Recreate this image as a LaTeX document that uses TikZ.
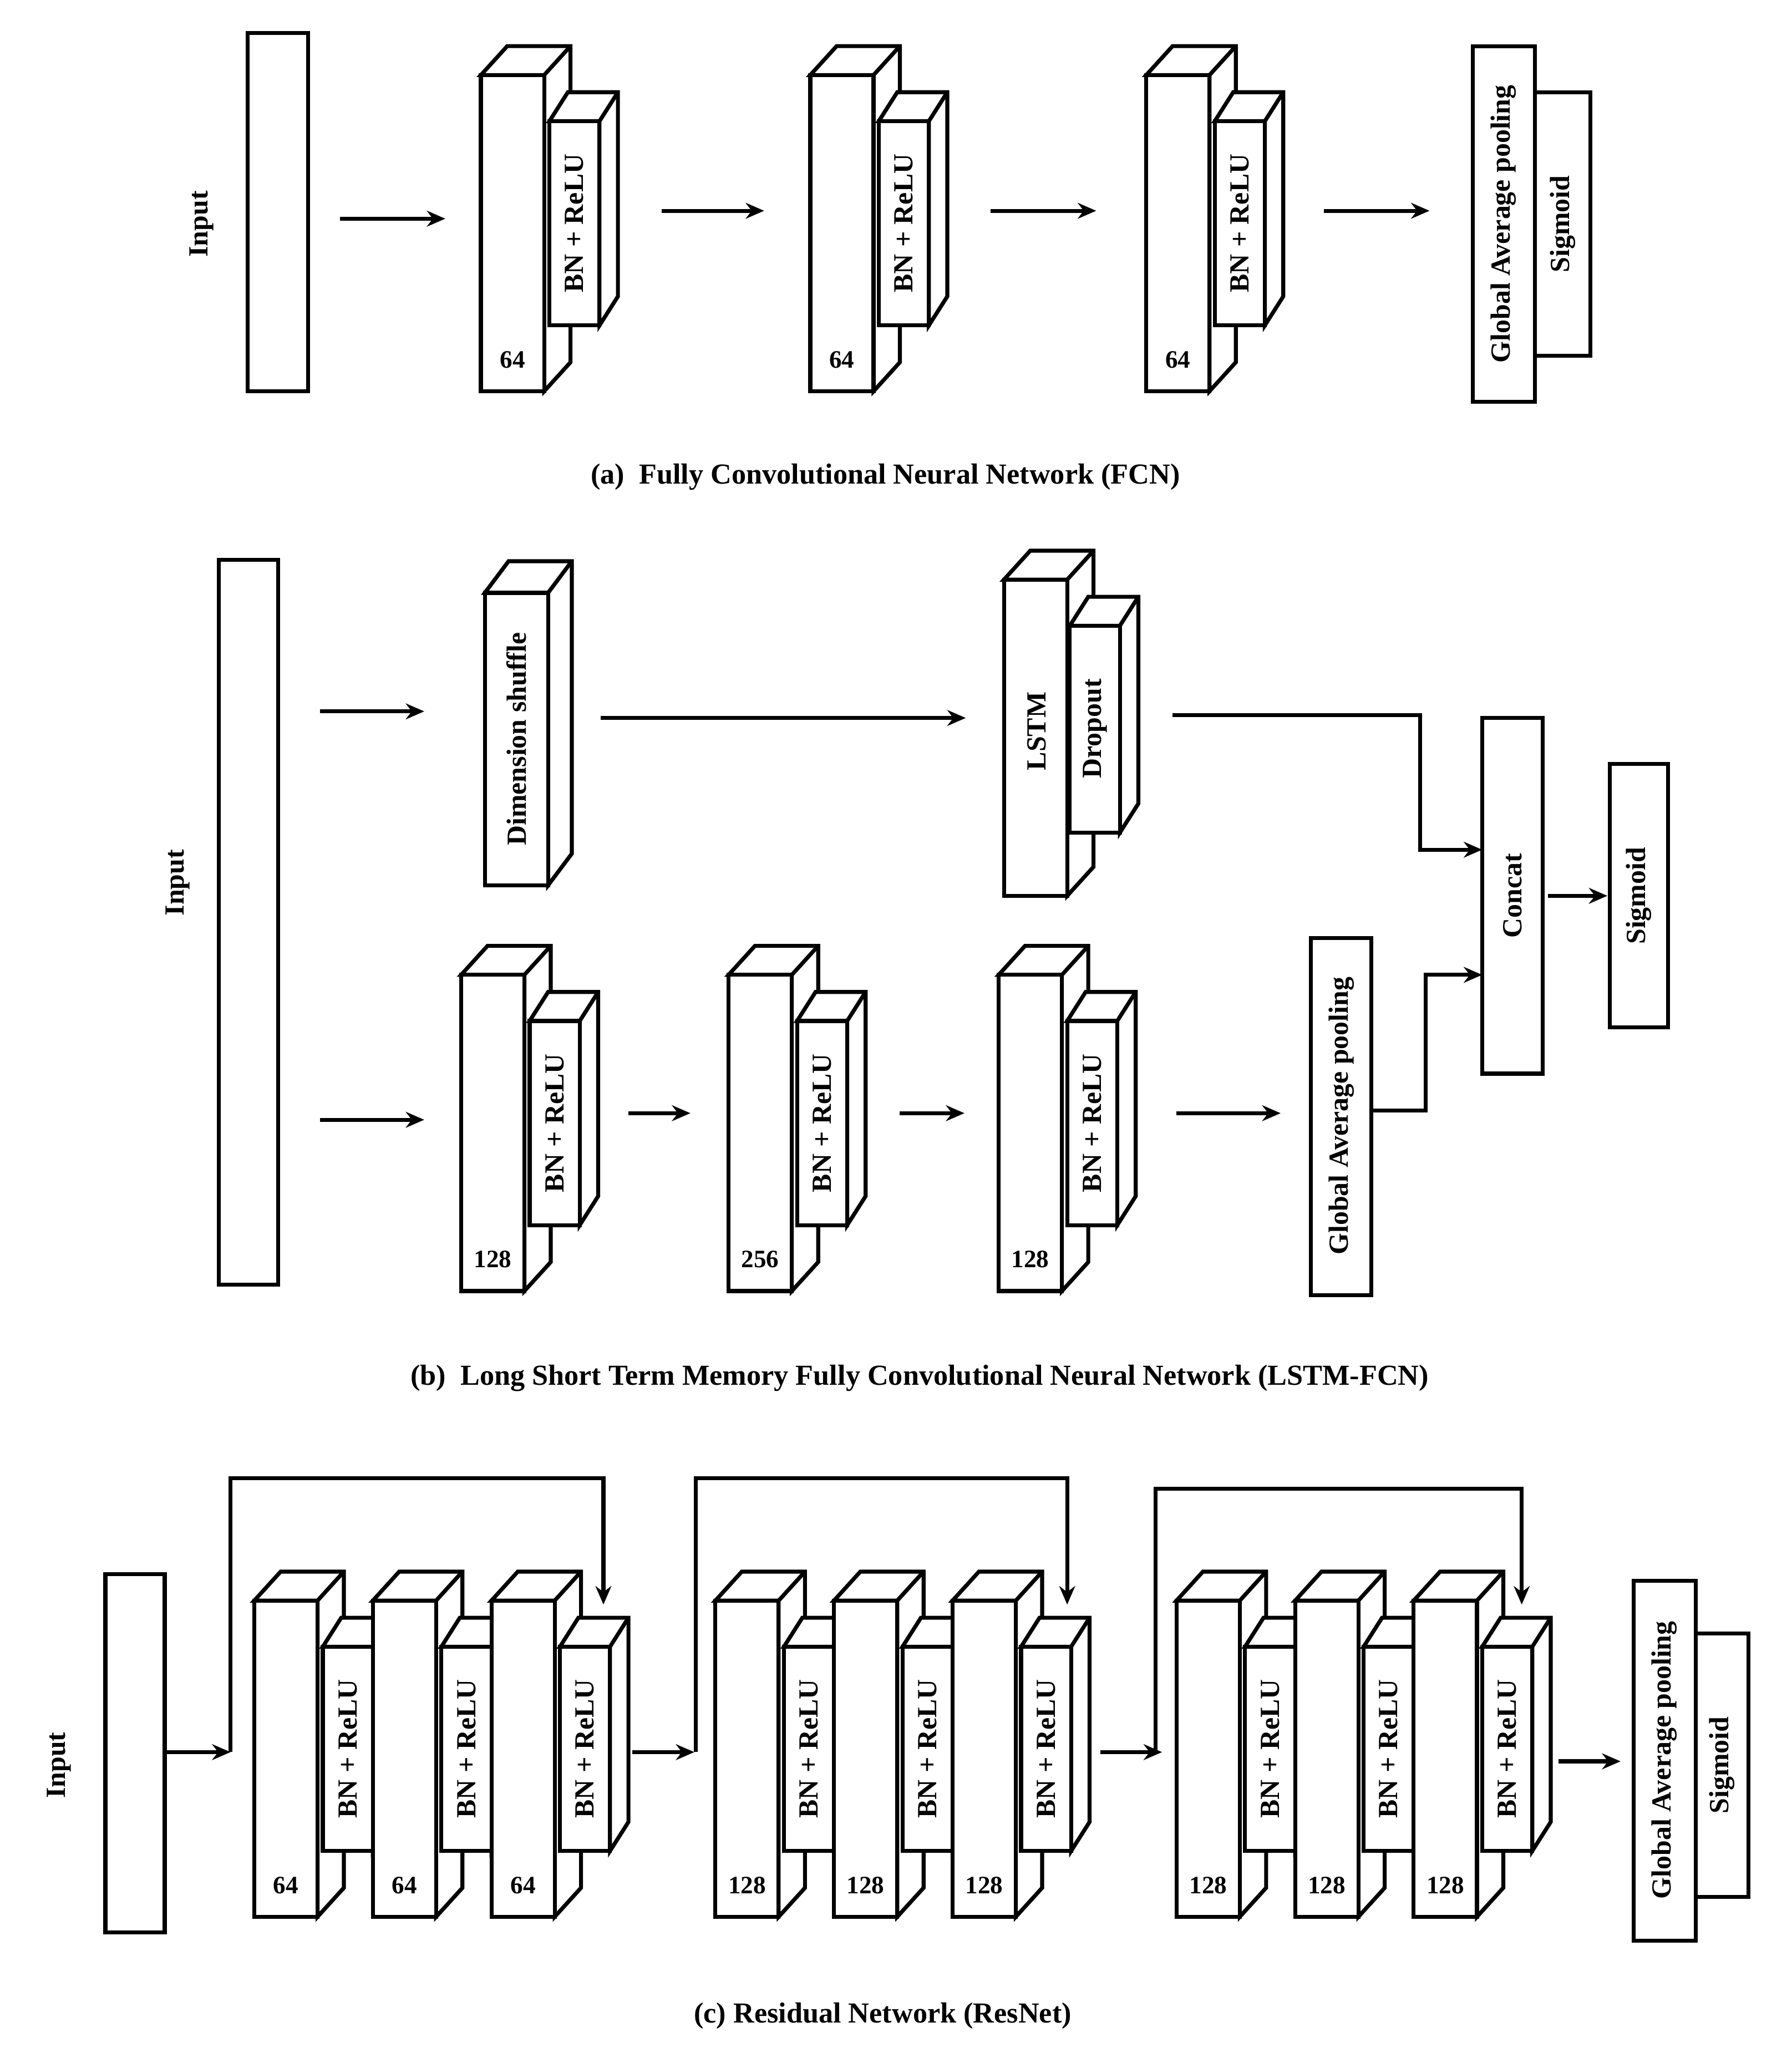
\documentclass[tikz,border=0pt]{standalone}
\usepackage{fontspec}
\setmainfont{Liberation Serif}
\usetikzlibrary{arrows.meta}
\begin{document}
\begin{tikzpicture}[x=1pt,y=-1pt,
 blk/.style={line width=3pt,fill=white,draw=black,line join=miter},
 arr/.style={line width=3pt,-{Stealth[length=14pt,width=12pt]}},
 ln/.style={line width=3pt},
 vt/.style={rotate=90,font=\bfseries\fontsize{21}{21}\selectfont,inner sep=0pt},
 num/.style={font=\bfseries\fontsize{19}{19}\selectfont,inner sep=0pt},
 captxt/.style={font=\bfseries\fontsize{22}{22}\selectfont,inner sep=0pt}]
\newcommand\cube[6]{%
 \filldraw[blk] ({#1},{#2}) -- ({#1+#5},{#2-#6}) -- ({#3+#5},{#2-#6}) -- ({#3+#5},{#4-#6}) -- ({#3},{#4}) -- ({#3},{#2}) -- cycle;
 \filldraw[blk] ({#1},{#2}) rectangle ({#3},{#4});
 \draw[blk] ({#3},{#2}) -- ({#3+#5},{#2-#6});}
\newcommand\conv[4]{%
 \cube{#1}{#2}{#1+48}{#3}{20}{22}
 \cube{#1+52}{#2+35}{#1+90}{#3-50}{14}{22}
 \node[vt] at ({#1+71},{(#2+#3-15)/2}) {BN + ReLU};
 \node[num] at ({#1+24},{#3-24}) {#4};}
\useasboundingbox (0,0) rectangle (1360,1566);
% ---------- (a)
\filldraw[blk] (188,25) rectangle (234,297);
\node[vt] (ia) at (153,170) {Input};
\coordinate (a0) at (258,166); \coordinate (a1) at (338,166);
\draw[arr] (a0) -- (a1);
\conv{365}{57}{297}{64}
\draw[arr] (502,160) -- (580,160);
\conv{615}{57}{297}{64}
\draw[arr] (752,160) -- (832,160);
\conv{870}{57}{297}{64}
\draw[arr] (1005,160) -- (1085,160);
\filldraw[blk] (1165,70) rectangle (1207,270);
\filldraw[blk] (1118,35) rectangle (1165,305);
\node[vt] at (1141,170) {Global Average pooling};
\node[vt] at (1186,170) {Sigmoid};
\node[captxt] at (672,362) {(a)\ \ Fully Convolutional Neural Network (FCN)};
% ---------- (b)
\filldraw[blk] (166,425) rectangle (211,975);
\node[vt] at (135,670) {Input};
\draw[arr] (243,540) -- (322,540);
\draw[arr] (243,850) -- (322,850);
\cube{368}{450}{416}{672}{18}{24}
\node[vt] at (392,561) {Dimension shuffle};
\draw[arr] (456,545) -- (733,545);
\cube{762}{440}{810}{680}{20}{22}
\cube{812}{475}{850}{632}{14}{22}
\node[vt] at (787,555) {LSTM};
\node[vt] at (831,553) {Dropout};
\filldraw[blk] (1125,545) rectangle (1171,815);
\node[vt] (cc) at (1148,680) {Concat};
\draw[ln] (890,543) -- (1078,543) -- (1078,645);
\draw[arr] (1076.5,645) -- (1125,645);
\draw[arr] (1175,680) -- (1220,680);
\filldraw[blk] (1222,580) rectangle (1266,780);
\node[vt] at (1244,680) {Sigmoid};
\conv{350}{740}{980}{128}
\draw[arr] (477,845) -- (524,845);
\conv{553}{740}{980}{256}
\draw[arr] (683,845) -- (732,845);
\conv{758}{740}{980}{128}
\draw[arr] (893,845) -- (972,845);
\filldraw[blk] (995,712) rectangle (1041,983);
\node[vt] at (1018,847) {Global Average pooling};
\draw[ln] (1041,843) -- (1082,843) -- (1082,740);
\draw[arr] (1080.5,740) -- (1125,740);
\node[captxt] at (698,1046) {(b)\ \ Long Short Term Memory Fully Convolutional Neural Network (LSTM-FCN)};
% ---------- (c)
\filldraw[blk] (80,1195) rectangle (125,1467);
\node[vt] at (45,1340) {Input};
\draw[arr] (125,1330) -- (175,1330);
\draw[ln] (175,1330) -- (175,1122) -- (458,1122);
\draw[arr] (458,1120.5) -- (458,1218);
\conv{193}{1215}{1455}{64}
\conv{283}{1215}{1455}{64}
\conv{373}{1215}{1455}{64}
\draw[arr] (480,1330) -- (527,1330);
\draw[ln] (528,1330) -- (528,1122) -- (810,1122);
\draw[arr] (810,1120.5) -- (810,1218);
\conv{543}{1215}{1455}{128}
\conv{633}{1215}{1455}{128}
\conv{723}{1215}{1455}{128}
\draw[arr] (835,1330) -- (882,1330);
\draw[ln] (877,1330) -- (877,1130) -- (1155,1130);
\draw[arr] (1155,1128.5) -- (1155,1218);
\conv{893}{1215}{1455}{128}
\conv{983}{1215}{1455}{128}
\conv{1073}{1215}{1455}{128}
\draw[arr] (1183,1337) -- (1230,1337);
\filldraw[blk] (1287,1240) rectangle (1327,1440);
\filldraw[blk] (1240,1200) rectangle (1287,1473);
\node[vt] at (1263,1336) {Global Average pooling};
\node[vt] at (1307,1340) {Sigmoid};
\node[captxt] at (670,1530) {(c) Residual Network (ResNet)};
\end{tikzpicture}
\end{document}
